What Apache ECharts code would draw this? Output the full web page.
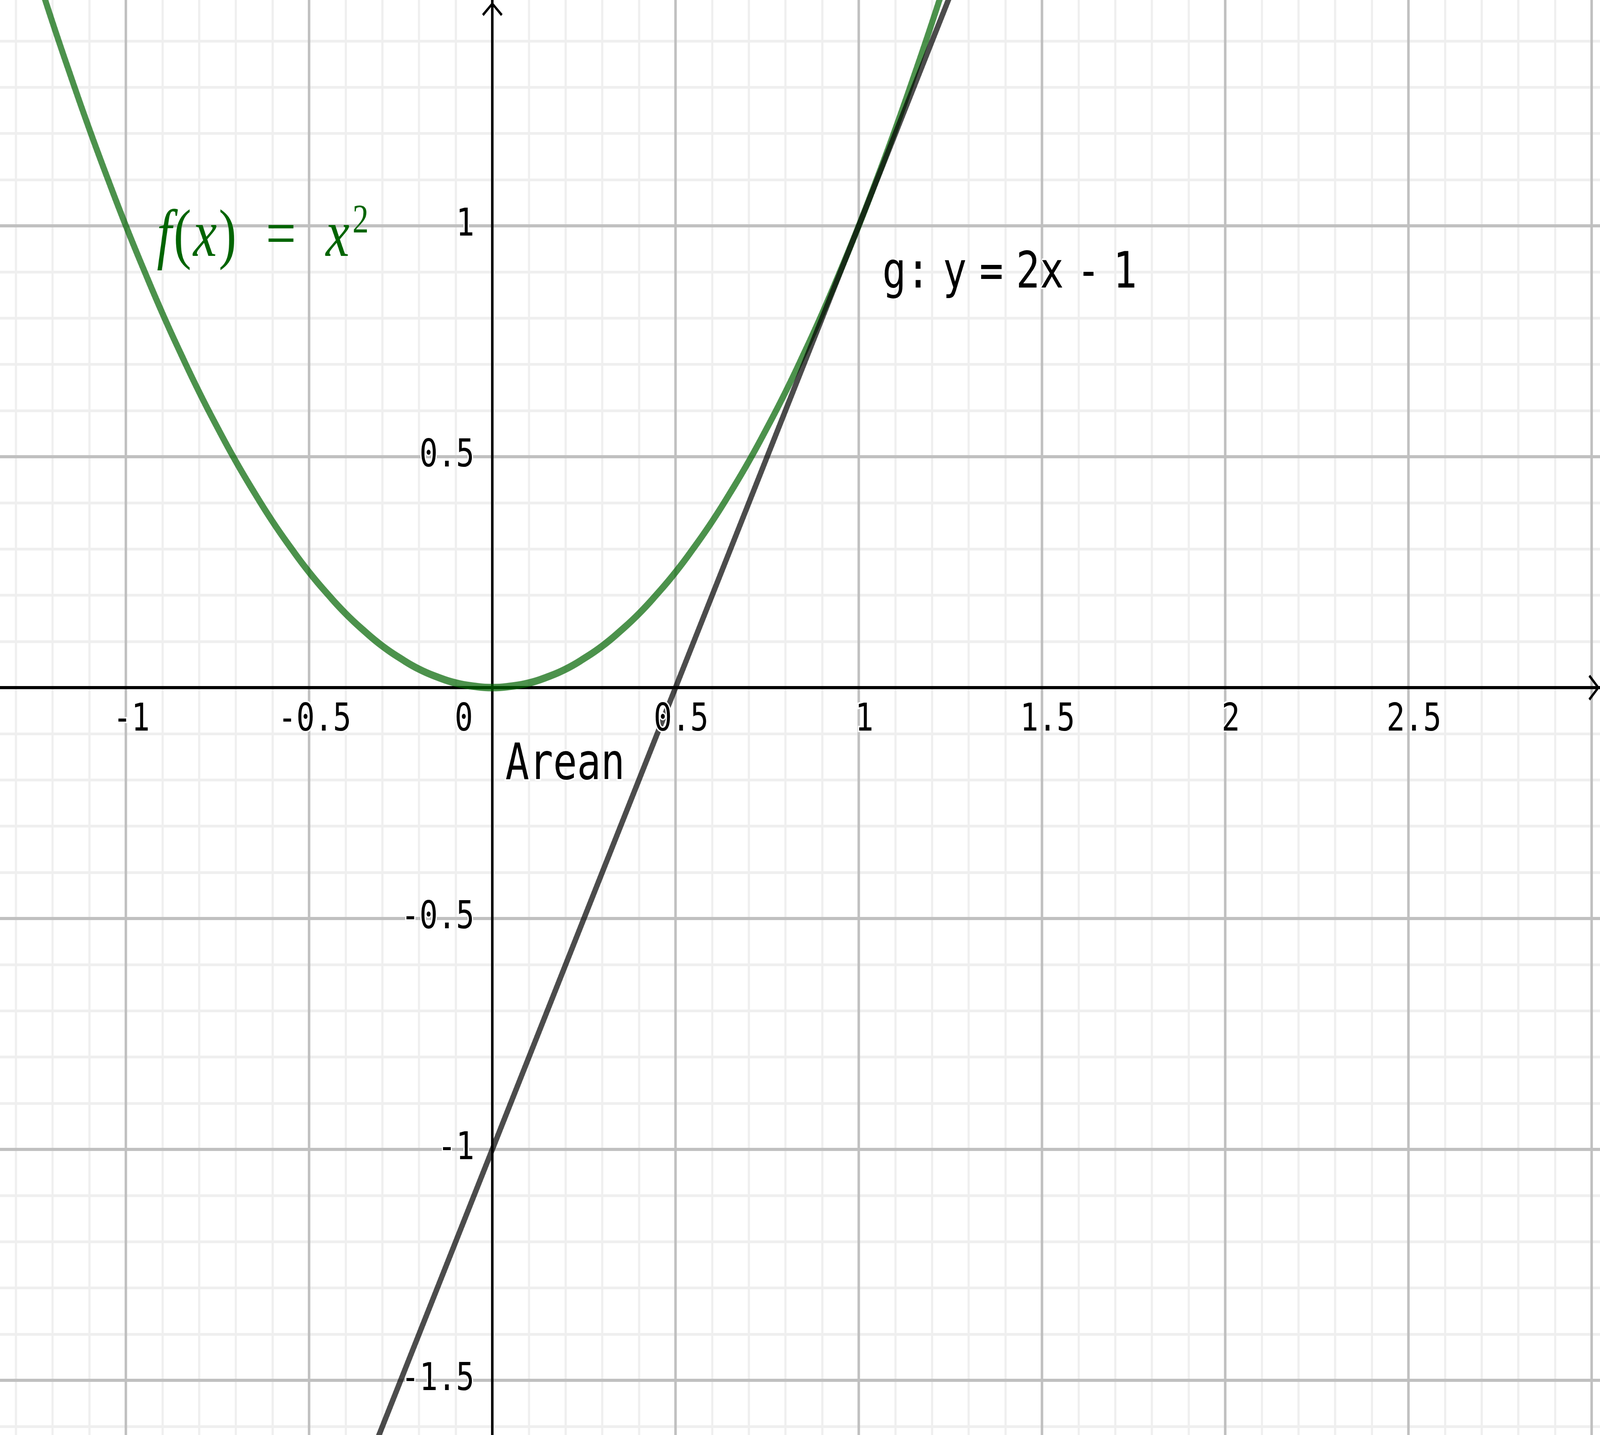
<!DOCTYPE html>
<html>
<head>
<meta charset="utf-8">
<script src="https://cdn.jsdelivr.net/npm/echarts@6/dist/echarts.min.js"></script>
<style>
html,body{margin:0;padding:0;background:#fff;overflow:hidden;}
#chart{width:5161px;height:3673px;transform-origin:0 0;}
</style>
</head>
<body>
<div id="chart"></div>
<script>
// f(x) = x^2 : points
var fX = [-1.3, -1.25, -1.2, -1.15, -1.1, -1.05, -1, -0.95, -0.9, -0.85, -0.8, -0.75, -0.7, -0.65,
          -0.6, -0.55, -0.5, -0.45, -0.4, -0.35, -0.3, -0.25, -0.2, -0.15, -0.1, -0.05, 0,
          0.05, 0.1, 0.15, 0.2, 0.25, 0.3, 0.35, 0.4, 0.45, 0.5, 0.55, 0.6, 0.65, 0.7,
          0.75, 0.8, 0.85, 0.9, 0.95, 1, 1.05, 1.1, 1.15, 1.2, 1.25, 1.3];
var fY = [1.69, 1.563, 1.44, 1.323, 1.21, 1.103, 1, 0.903, 0.81, 0.723, 0.64, 0.563, 0.49, 0.423,
          0.36, 0.303, 0.25, 0.203, 0.16, 0.123, 0.09, 0.063, 0.04, 0.023, 0.01, 0.003, 0,
          0.003, 0.01, 0.023, 0.04, 0.063, 0.09, 0.123, 0.16, 0.203, 0.25, 0.303, 0.36, 0.423, 0.49,
          0.563, 0.64, 0.723, 0.81, 0.903, 1, 1.103, 1.21, 1.323, 1.44, 1.563, 1.69];
// g: y = 2x - 1 : points
var gX = [-0.4, 0, 0.5, 1, 1.3];
var gY = [-1.8, -1, 0, 1, 1.6];
// tick labels
var xTicks = [-1, -0.5, 0, 0.5, 1, 1.5, 2, 2.5];
var xTickLabels = ['-1', '-0.5', '0', '0.5', '1', '1.5', '2', '2.5'];
var yTicks = [-1.5, -1, -0.5, 0.5, 1];
var yTickLabels = ['-1.5', '-1', '-0.5', '0.5', '1'];

// view: pixel of the origin and pixels per unit
var W = 5161, H = 3673, ox = 1588, oy = 1760, unit = 1182;
var xMin = -ox / unit, xMax = (W - ox) / unit;
var yMin = -(H - oy) / unit, yMax = oy / unit;
// the grid-line axes start on whole multiples of 0.5
var gxMin = -1.5, gxMax = 3.5, gyMin = -2, gyMax = 1.5;
var gl = ox + gxMin * unit, gt = oy - gyMax * unit;
var gw = (gxMax - gxMin) * unit, gh = (gyMax - gyMin) * unit;

function box(left, top, width, height) {
    return {left: left, top: top, width: width, height: height, outerBoundsMode: 'none', containLabel: false};
}
function pairs(xs, ys) {
    return xs.map(function (x, i) { return [x, ys[i]]; });
}
function lookup(ticks, labels, v) {
    for (var i = 0; i < ticks.length; i++) {
        if (Math.abs(ticks[i] - v) < 1e-9) return labels[i];
    }
    return null;
}

var mono = 'DejaVu Sans Mono';
var tickStyle = {fontFamily: mono, fontSize: 98, color: '#000', textBorderColor: '#fff', textBorderWidth: 8};
var arrow = 'path://M33,0L66,31L61,36L33,9L5,36L0,31Z';

function hidden(extra) {
    var a = {
        type: 'value', axisLine: {show: false}, axisTick: {show: false},
        axisLabel: {show: false}, splitLine: {show: false}
    };
    for (var k in extra) a[k] = extra[k];
    return a;
}

// the window may be smaller than the drawing: fit the drawing into it
var el = document.getElementById('chart');
var sx = Math.min(1, window.innerWidth / W), sy = Math.min(1, window.innerHeight / H);
el.style.transform = 'scale(' + sx + ',' + sy + ')';

var chart = echarts.init(el);
var option = {
    backgroundColor: '#fff',
    animation: false,
    grid: [
        box(gl, gt, gw, gh),        // 0 minor grid lines
        box(gl, gt, gw, gh),        // 1 major grid lines
        box(0, 0, W, H),            // 2 axes with arrows + curves
        box(gl, 0, gw, oy),         // 3 x tick labels (bottom edge on y = 0)
        box(ox, gt, W - ox, gh)     // 4 y tick labels (left edge on x = 0)
    ],
    xAxis: [
        hidden({gridIndex: 0, min: gxMin, max: gxMax, interval: 0.5, z: 0,
            minorTick: {show: false, splitNumber: 5},
            minorSplitLine: {show: true, lineStyle: {color: '#efefef', width: 7}}}),
        hidden({gridIndex: 1, min: gxMin, max: gxMax, interval: 0.5, z: 1,
            splitLine: {show: true, lineStyle: {color: '#c0c0c0', width: 8}}}),
        hidden({gridIndex: 2, min: xMin, max: xMax, z: 2,
            axisLine: {show: true, onZero: true, symbol: ['none', arrow], symbolSize: [66, 36],
                symbolOffset: [0, -19], lineStyle: {color: '#000', width: 8}}}),
        hidden({gridIndex: 3, min: gxMin, max: gxMax, interval: 0.5, z: 10, position: 'bottom',
            axisLabel: {
                show: true, margin: 36,
                formatter: function (v) {
                    var s = lookup(xTicks, xTickLabels, v);
                    if (s === null) return '';
                    return v === 0 ? '{o|' + s + '}' : '{t|' + s + '}';
                },
                rich: {
                    t: Object.assign({padding: [0, 0, 0, 36]}, tickStyle),
                    o: Object.assign({padding: [0, 184, 0, 0]}, tickStyle)
                }
            }}),
        hidden({gridIndex: 4, min: 0, max: 1, z: 10})
    ],
    yAxis: [
        hidden({gridIndex: 0, min: gyMin, max: gyMax, interval: 0.5, z: 0,
            minorTick: {show: false, splitNumber: 5},
            minorSplitLine: {show: true, lineStyle: {color: '#efefef', width: 7}}}),
        hidden({gridIndex: 1, min: gyMin, max: gyMax, interval: 0.5, z: 1,
            splitLine: {show: true, lineStyle: {color: '#c0c0c0', width: 8}}}),
        hidden({gridIndex: 2, min: yMin, max: yMax, z: 2,
            axisLine: {show: true, onZero: true, symbol: ['none', arrow], symbolSize: [66, 36],
                symbolOffset: [0, -23], lineStyle: {color: '#000', width: 8}}}),
        hidden({gridIndex: 3, min: 0, max: 1, z: 10}),
        hidden({gridIndex: 4, min: gyMin, max: gyMax, interval: 0.5, z: 10, position: 'left',
            axisLabel: Object.assign({
                show: true, margin: 58,
                formatter: function (v) {
                    var s = lookup(yTicks, yTickLabels, v);
                    return s === null ? '' : s;
                }
            }, tickStyle)})
    ],
    series: [
        {
            name: 'f', type: 'line', xAxisIndex: 2, yAxisIndex: 2, z: 3,
            data: pairs(fX, fY), smooth: true, showSymbol: false, silent: true,
            lineStyle: {color: 'rgba(0,100,0,0.7)', width: 19}
        },
        {
            name: 'g', type: 'line', xAxisIndex: 2, yAxisIndex: 2, z: 4,
            data: pairs(gX, gY), showSymbol: false, silent: true,
            lineStyle: {color: 'rgba(0,0,0,0.7)', width: 17}
        }
    ],
    graphic: [
        {
            type: 'text', x: 500, y: 610, z: 20,
            style: {
                text: '{i|f}{r|(}{i|x}{r|)}{e|=}{i|x}{s|2}',
                verticalAlign: 'middle',
                rich: {
                    i: {fontFamily: 'Liberation Serif', fontStyle: 'italic', fontSize: 172, fill: '#006400', padding: [0, 6, 0, 6]},
                    r: {fontFamily: 'Liberation Serif', fontSize: 172, fill: '#006400'},
                    e: {fontFamily: 'Liberation Serif', fontSize: 172, fill: '#006400', padding: [0, 90, 0, 95]},
                    s: {fontFamily: 'Liberation Serif', fontSize: 104, fill: '#006400', padding: [0, 0, 84, 4]}
                }
            }
        },
        {
            type: 'text', x: 2846, y: 703, z: 20,
            style: {
                text: '{a|g:}{b|y}{b|=}{b|2x}{b|-}{b|1}',
                verticalAlign: 'middle',
                rich: {
                    a: {fontFamily: mono, fontSize: 128, fill: '#000', stroke: '#fff', lineWidth: 8},
                    b: {fontFamily: mono, fontSize: 128, fill: '#000', stroke: '#fff', lineWidth: 8, padding: [0, 0, 0, 41]}
                }
            }
        },
        {
            type: 'text', x: 1630, y: 1961, z: 20,
            style: {
                text: 'Arean', fontFamily: mono, fontSize: 128, fill: '#000',
                stroke: '#fff', lineWidth: 8, verticalAlign: 'middle'
            }
        }
    ]
};
chart.setOption(option);
</script>
</body>
</html>
